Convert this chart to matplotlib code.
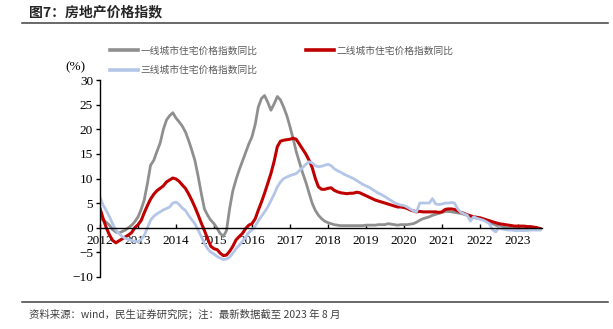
import matplotlib
matplotlib.use("Agg")
import matplotlib.pyplot as plt
import matplotlib.dates as mdates
from matplotlib.lines import Line2D
import pandas as pd

months = pd.date_range("2012-01-01", periods=140, freq="MS")

tier1 = [
    2.0, 1.5, 1.1, 0.5, -0.4, -0.9, -1.1, -0.8, -0.5, 0.0, 0.5, 1.2,
    2.2, 3.8, 5.6, 9.0, 12.7, 13.7, 15.5, 17.2, 20.0, 21.9, 22.8, 23.4,
    22.3, 21.5, 20.7, 19.5, 17.8, 15.8, 13.7, 10.5, 6.9, 3.8, 2.5, 1.5,
    0.8, -0.2, -1.2, -1.8, -0.6, 4.0, 7.5, 9.8, 11.8, 13.5, 15.3, 17.0,
    18.5, 21.0, 24.5, 26.3, 26.9, 25.5, 23.9, 25.2, 26.7, 26.0, 24.5, 22.8,
    20.5, 18.0, 15.5, 13.3, 11.2, 9.3, 7.2, 5.0, 3.5, 2.5, 1.8, 1.3,
    1.0, 0.8, 0.6, 0.5, 0.4, 0.4, 0.4, 0.4, 0.4, 0.4, 0.4, 0.4,
    0.5, 0.5, 0.5, 0.5, 0.6, 0.6, 0.6, 0.8, 0.7, 0.6, 0.5, 0.6,
    0.6, 0.6, 0.7, 0.8, 1.1, 1.5, 1.8, 2.0, 2.2, 2.5, 2.7, 2.9,
    3.1, 3.3, 3.3, 3.2, 3.1, 3.0, 2.9, 2.7, 2.5, 2.3, 2.1, 1.9,
    1.8, 1.6, 1.4, 1.1, 0.8, 0.5, 0.3, 0.1, 0.0, -0.1, -0.2, -0.2,
    -0.2, -0.2, -0.2, -0.2, -0.3, -0.3, -0.3, -0.3,
]

tier2 = [
    3.9, 1.8, 0.0, -1.5, -2.6, -3.1, -2.7, -2.3, -1.9, -1.5, -1.0, 0.0,
    0.6, 1.5, 3.0, 4.5, 5.8, 6.8, 7.5, 8.0, 8.5, 9.3, 9.7, 10.1,
    9.9, 9.4, 8.7, 8.0, 6.9, 5.6, 4.2, 2.6, 0.9, -0.6, -2.3, -3.8,
    -4.3, -4.5, -5.2, -5.7, -5.6, -4.8, -3.8, -2.5, -1.8, -1.2, -0.2, 0.5,
    0.8, 1.8, 3.5, 5.2, 7.0, 9.0, 11.0, 13.5, 16.5, 17.6, 17.8, 17.9,
    18.0, 18.2, 18.0, 17.0, 16.0, 15.0, 13.8, 12.3, 10.0, 8.3, 7.8, 7.8,
    8.0, 8.1, 7.6, 7.3, 7.1, 7.0, 6.9, 7.0, 7.0, 7.2, 7.1, 6.8,
    6.5, 6.2, 5.9, 5.6, 5.4, 5.2, 5.0, 4.8, 4.6, 4.4, 4.2, 4.2,
    4.1, 3.9, 3.6, 3.4, 3.2, 3.3, 3.2, 3.2, 3.2, 3.2, 3.2, 3.1,
    3.2, 3.7, 3.8, 3.8, 3.7, 3.4, 3.1, 2.9, 2.6, 2.4, 2.2, 2.1,
    2.0, 1.8, 1.6, 1.4, 1.2, 1.0, 0.8, 0.7, 0.6, 0.5, 0.4, 0.3,
    0.3, 0.3, 0.3, 0.2, 0.2, 0.1, 0.0, -0.2,
]

tier3 = [
    6.2, 4.5, 3.5, 2.2, 0.8, -0.5, -1.2, -1.8, -2.2, -2.4, -2.6, -2.8,
    -2.9, -2.4, -1.6, 0.0, 1.5, 2.3, 2.8, 3.2, 3.6, 3.9, 4.2, 5.0,
    5.2, 4.7, 4.0, 3.5, 2.5, 1.6, 0.8, -0.5, -1.8, -3.3, -4.3, -5.0,
    -5.4, -5.9, -6.2, -6.5, -6.4, -6.0, -5.2, -4.3, -3.6, -2.8, -2.0, -1.0,
    -0.5, 0.3, 1.3, 2.3, 3.2, 4.2, 5.5, 6.8, 8.3, 9.3, 10.0, 10.3,
    10.6, 10.8, 11.0, 11.6, 12.2, 12.9, 13.4, 13.2, 12.6, 12.4, 12.5, 12.7,
    12.9, 12.6, 12.0, 11.6, 11.3, 10.9, 10.6, 10.3, 10.0, 9.6, 9.2, 8.8,
    8.5, 8.2, 7.8, 7.4, 7.0, 6.7, 6.3, 5.9, 5.5, 5.1, 4.8, 4.6,
    4.5, 4.2, 3.8, 3.4, 3.2, 5.0, 5.0, 5.0, 5.0, 5.9, 4.8, 4.7,
    4.8, 5.0, 5.0, 5.1, 5.0, 3.8, 3.1, 2.8, 2.5, 1.3, 2.2, 1.9,
    1.7, 1.5, 1.2, 0.8, -0.4, -0.9, 0.0, -0.3, -0.4, -0.5, -0.5, -0.6,
    -0.6, -0.6, -0.6, -0.6, -0.5, -0.5, -0.5, -0.5,
]

labels = ["一线城市住宅价格指数同比", "二线城市住宅价格指数同比", "三线城市住宅价格指数同比"]
colors = ["#8f8f8f", "#c00000", "#b4c6e7"]
yticks = [-10, -5, 0, 5, 10, 15, 20, 25, 30]

CJK = ["Noto Sans CJK SC", "DejaVu Sans"]
SERIF = "Liberation Serif"

W, H = 613, 329
fig = plt.figure(figsize=(W / 100, H / 100), dpi=100)
ax = fig.add_axes([100 / W, 1 - 276.7 / H, (542 - 100) / W, (276.7 - 80.3) / H])

series = [tier1, tier2, tier3]
handles = []
for vals, c, lab in zip(series, colors, labels):
    h, = ax.plot(months, vals, color=c, lw=2.0 if c != "#c00000" else 2.2, label=lab,
                 solid_joinstyle="round")
    handles.append(h)

ax.set_ylim(-10, 30)
ax.set_yticks(yticks)
ax.set_xlim(pd.Timestamp("2012-01-01"), pd.Timestamp("2023-08-20"))
ax.xaxis.set_major_locator(mdates.YearLocator())
ax.xaxis.set_major_formatter(mdates.DateFormatter("%Y"))

for s in ["top", "right"]:
    ax.spines[s].set_visible(False)
ax.spines["bottom"].set_position(("data", 0))
ax.spines["bottom"].set_color("black")
ax.spines["left"].set_color("black")
ax.spines["bottom"].set_linewidth(1.0)
ax.spines["left"].set_linewidth(1.0)

ax.tick_params(axis="y", direction="out", length=3, width=1, pad=2, labelsize=9.5)
ax.tick_params(axis="x", direction="in", length=3, width=1, pad=5, labelsize=9.5)
for t in ax.get_xticklabels() + ax.get_yticklabels():
    t.set_fontfamily(SERIF)

fig.text(75 / W, 1 - 67 / H, "(%)", fontfamily=SERIF, fontsize=9.5, ha="center", va="center")

leg = fig.legend([handles[0], handles[2], handles[1]],
                 [labels[0], labels[2], labels[1]],
                 ncol=2, loc="upper left", bbox_to_anchor=(110 / W, 1 - 45.5 / H),
                 frameon=False, prop={"family": CJK, "size": 7},
                 handlelength=2.9, handletextpad=0.25, columnspacing=5.0,
                 labelspacing=1.0, borderpad=0, borderaxespad=0)
for t in leg.get_texts():
    t.set_color("#595959")
for lh in leg.get_lines():
    lh.set_linewidth(2.6)

fig.text(29 / W, 1 - 12 / H, "图7：房地产价格指数", fontfamily=CJK, fontsize=10,
         fontweight="bold", ha="left", va="center", color="#262626")
fig.add_artist(Line2D([22 / W, 608 / W], [1 - 23 / H, 1 - 23 / H], color="#404040", lw=1.1,
                      transform=fig.transFigure))
fig.add_artist(Line2D([22 / W, 608 / W], [1 - 302 / H, 1 - 302 / H], color="#404040", lw=1.1,
                      transform=fig.transFigure))
fig.text(29 / W, 1 - 314 / H, "资料来源：wind，民生证券研究院；注：最新数据截至 2023 年 8 月",
         fontfamily=CJK, fontsize=7.5, ha="left", va="center", color="#404040")

fig.savefig("out.png", dpi=100)
